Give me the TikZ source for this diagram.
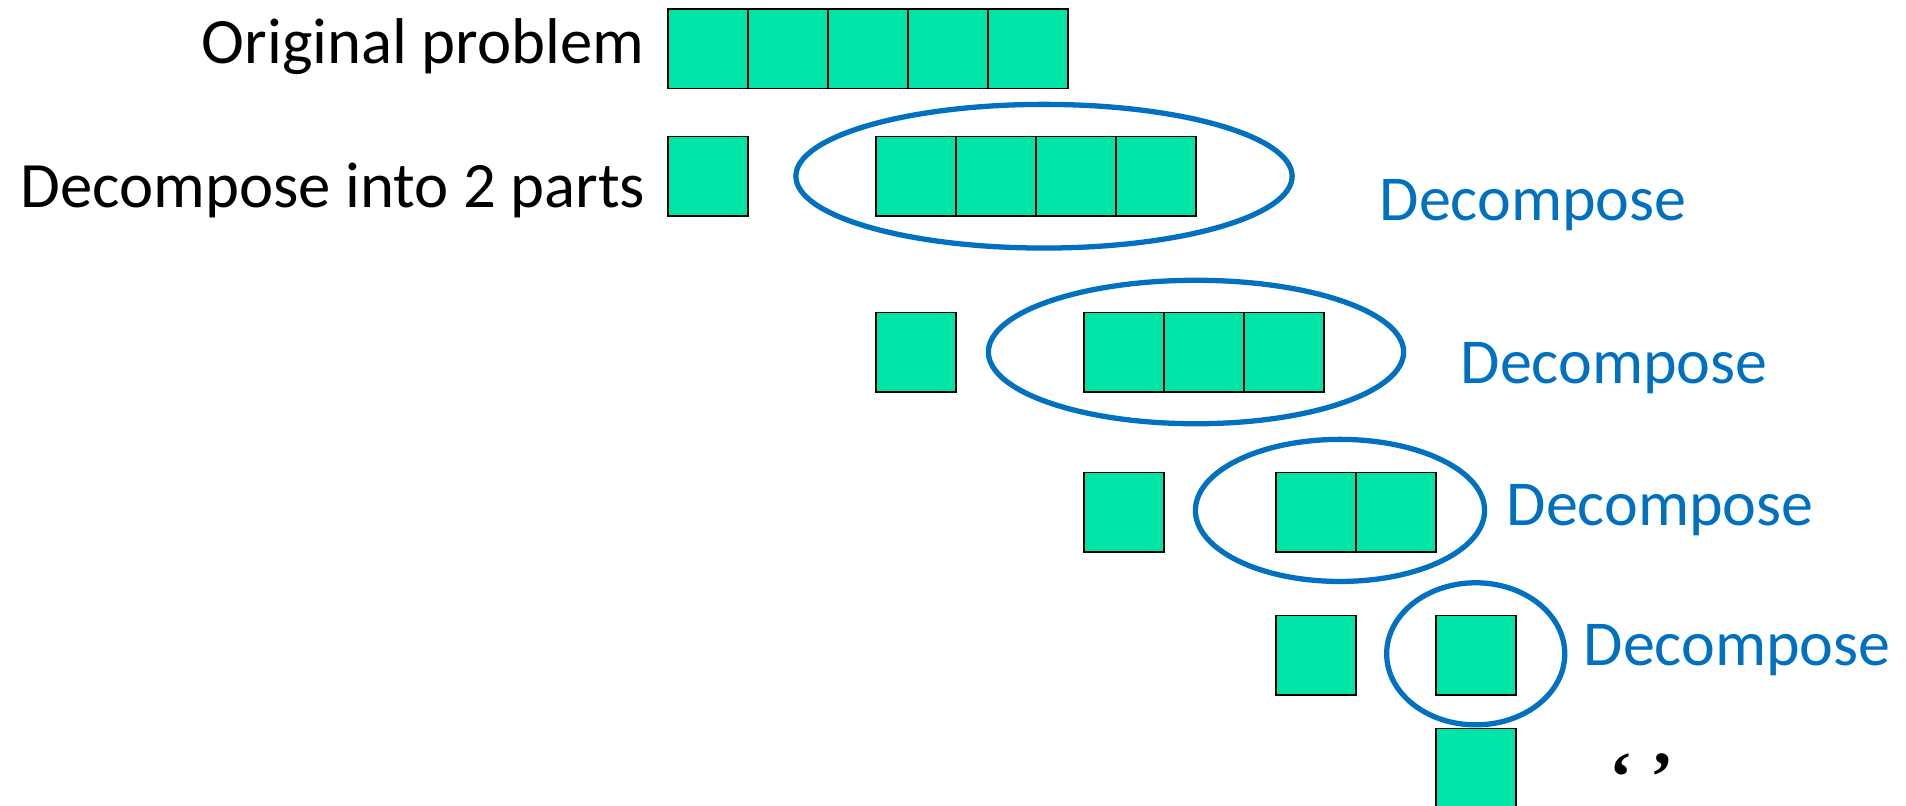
\documentclass[tikz,border=0pt]{standalone}
\usepackage{fontspec}
\setmainfont{Carlito}
\newfontfamily\quotefont{Liberation Serif}
\usetikzlibrary{shapes.geometric}
\definecolor{cellgreen}{RGB}{0,228,168}
\definecolor{ovalblue}{RGB}{0,112,192}
\begin{document}
\begin{tikzpicture}[x=0.01cm,y=-0.01cm,
  cell/.style={draw=black, line width=0.45pt, fill=cellgreen, minimum width=0.8cm, minimum height=0.795cm, inner sep=0pt, outer sep=0pt, anchor=north west},
  oval/.style={draw=ovalblue, line width=1.5pt, ellipse, inner sep=0pt, fill=none},
  lbl/.style={font=\fontsize{18.4}{22}\selectfont, inner sep=0pt, anchor=base east},
  dec/.style={text=ovalblue, font=\fontsize{18.2}{22}\selectfont, inner sep=0pt, anchor=base west}]
\clip (0,0) rectangle (1906,805);
\fill[white] (0,0) rectangle (1906,805);
% row 1
\node[lbl] (t1) at (645,63.3) {Original problem};
\foreach \k in {0,...,4} \node[cell] (a\k) at ({668+80*\k},9) {};
% row 2
\node[lbl] (t2) at (646,207.5) {Decompose into 2 parts};
\node[cell] (b0) at (668,136.3) {};
\foreach \k in {0,...,3} \node[cell] (b1\k) at ({876+80*\k},136.3) {};
\node[oval, minimum width=4.96cm, minimum height=1.436cm] (e2) at (1044,176.2) {};
\node[dec] (d2) at (1379,220) {Decompose};
% row 3
\node[cell] (c0) at (876,312.3) {};
\foreach \k in {0,...,2} \node[cell] (c1\k) at ({1084+80*\k},312.3) {};
\node[oval, minimum width=4.15cm, minimum height=1.434cm] (e3) at (1196,352) {};
\node[dec] (d3) at (1460,383.3) {Decompose};
% row 4
\node[cell] (f0) at (1084,472.3) {};
\foreach \k in {0,...,1} \node[cell] (f1\k) at ({1276+80*\k},472.3) {};
\node[oval, minimum width=2.89cm, minimum height=1.42cm] (e4) at (1340,510.4) {};
\node[dec] (d4) at (1506,525) {Decompose};
% row 5
\node[cell] (g0) at (1276,615.5) {};
\node[cell] (g1) at (1436,615.5) {};
\node[oval, minimum width=1.78cm, minimum height=1.42cm] (e5) at (1475.7,653.8) {};
\node[dec] (d5) at (1583,665.7) {Decompose};
% row 6
\node[cell] (h0) at (1436,728.3) {};
\node[font=\quotefont\bfseries\fontsize{20}{24}\selectfont, inner sep=0pt, text depth=0pt, anchor=base west] (q) at (1609,800) {‘ ’};
\end{tikzpicture}
\end{document}
